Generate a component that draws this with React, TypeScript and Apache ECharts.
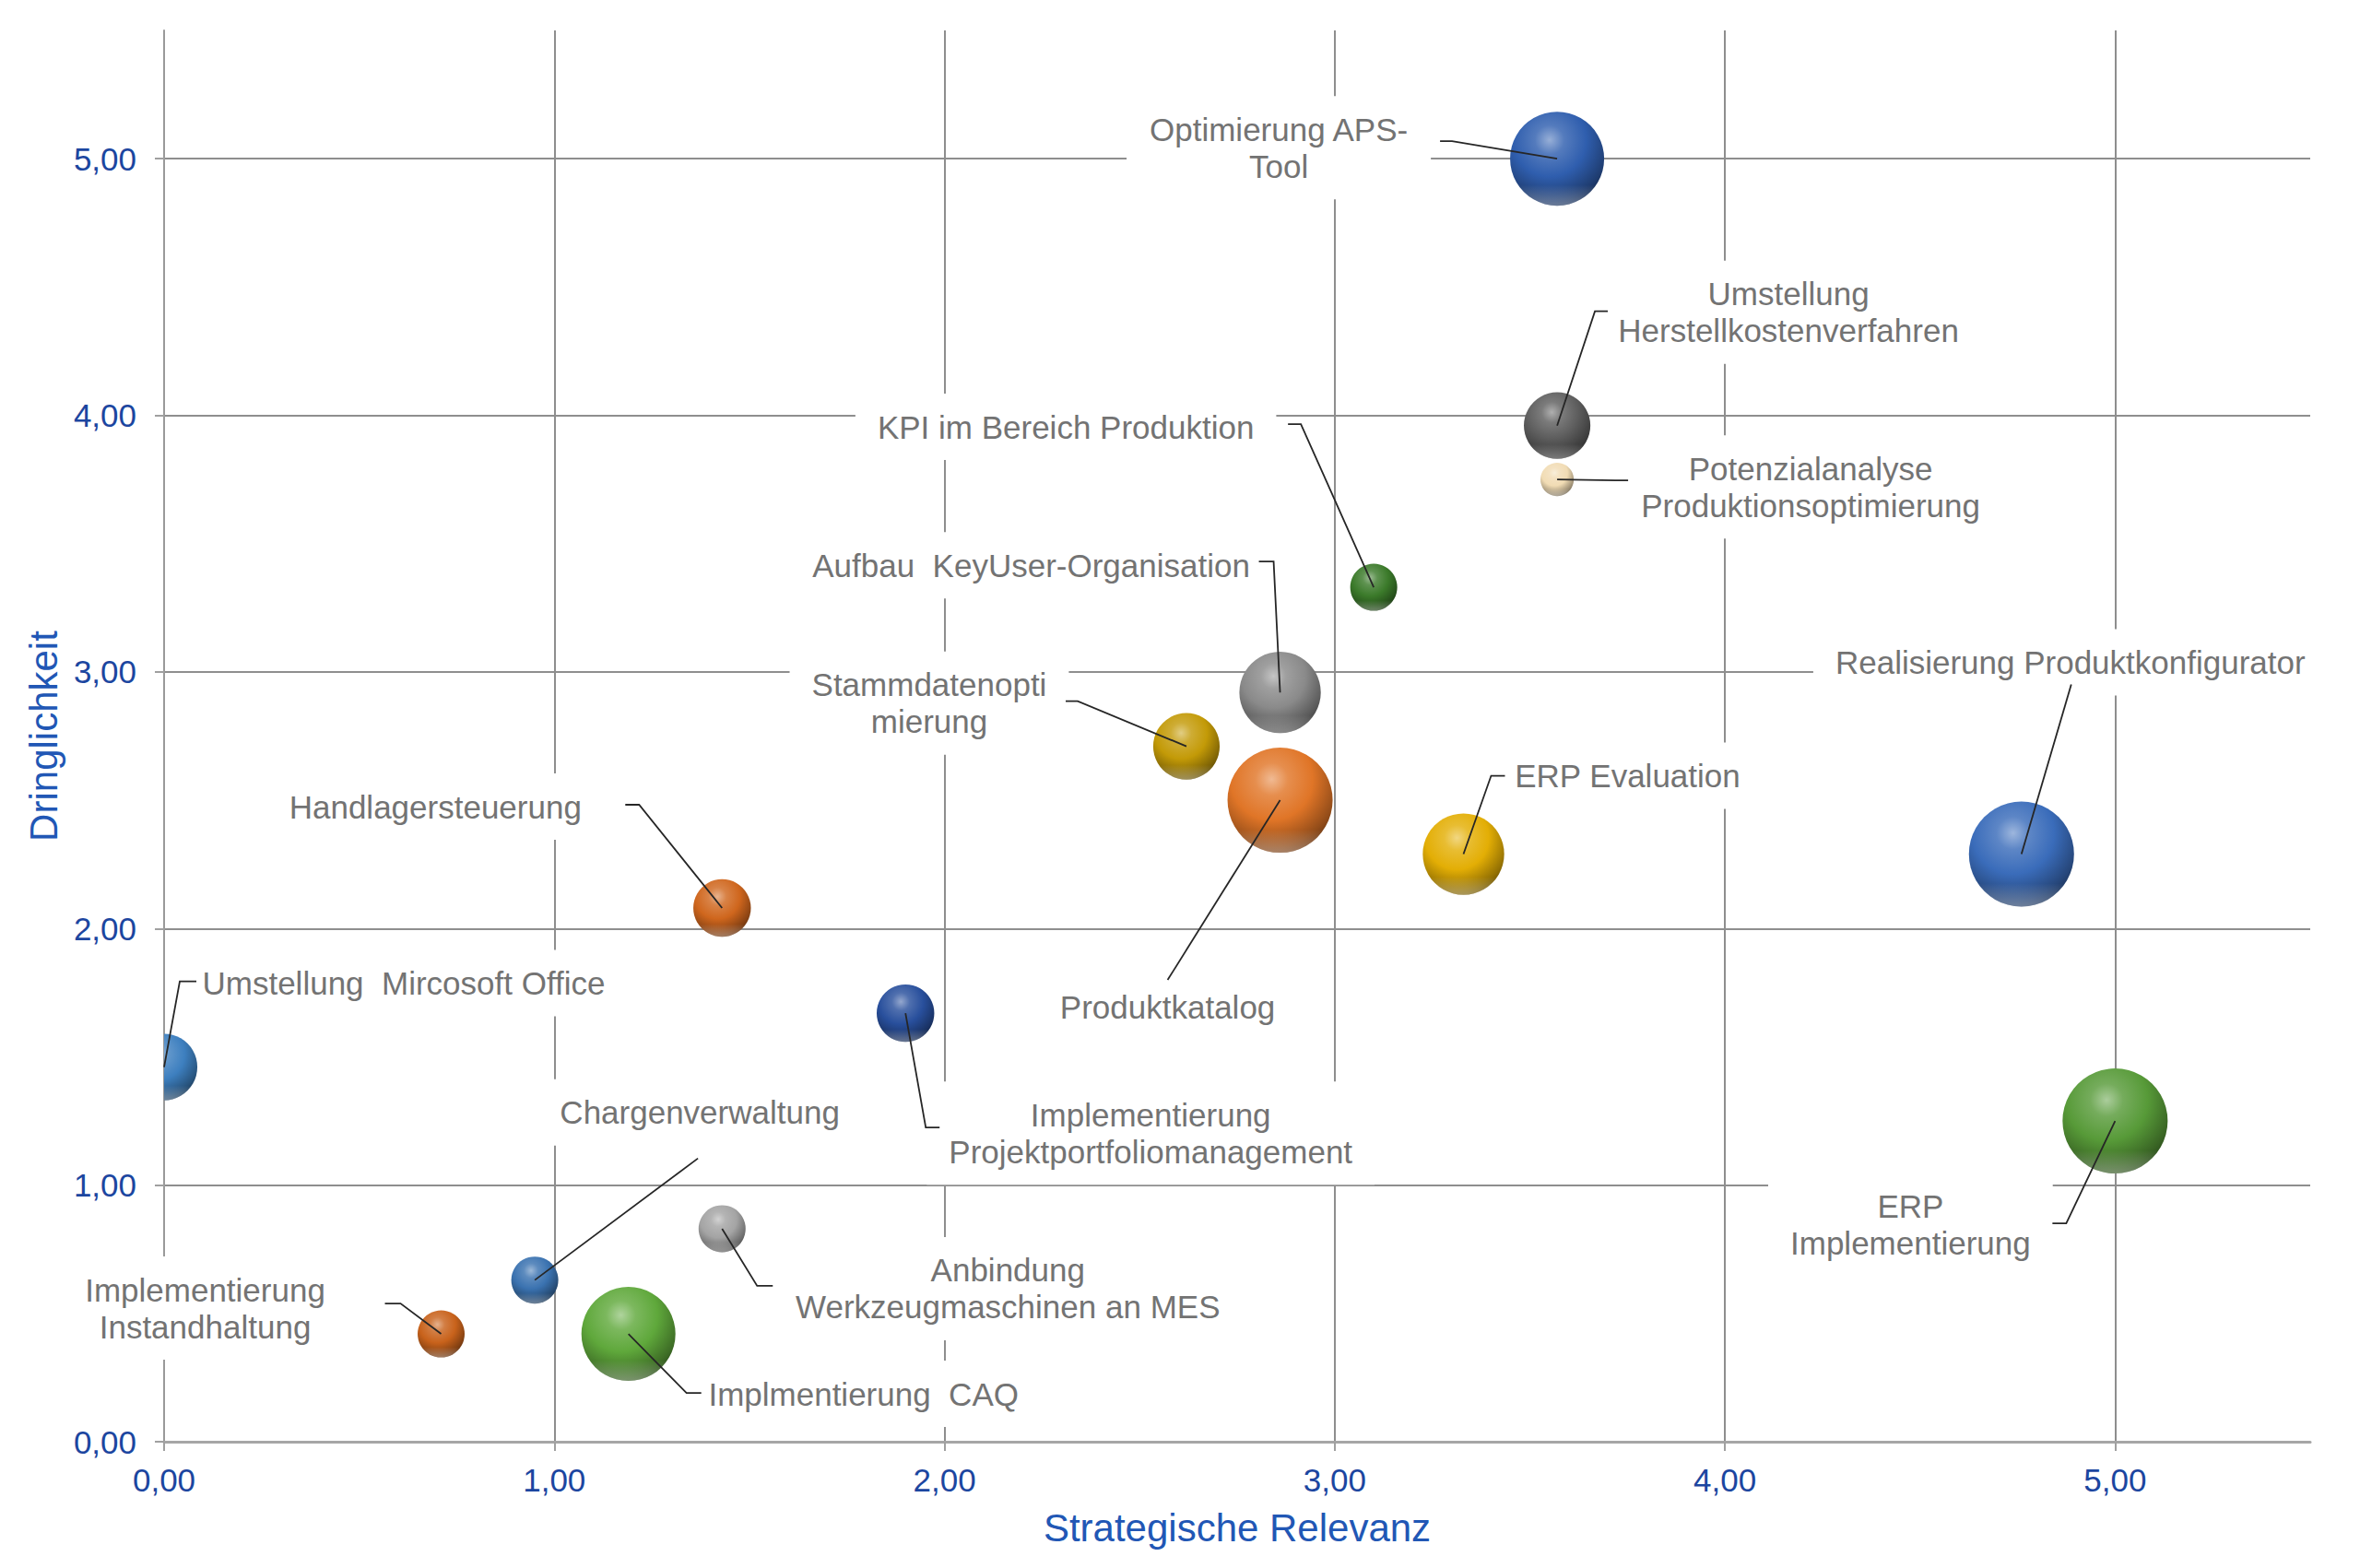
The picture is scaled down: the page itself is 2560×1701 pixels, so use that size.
import React, { useEffect, useRef } from "react";
import * as echarts from "echarts";

// ---------------- data ----------------
const projects: string[] = [
  "Optimierung APS-\nTool",
  "Umstellung\nHerstellkostenverfahren",
  "Potenzialanalyse\nProduktionsoptimierung",
  "KPI im Bereich Produktion",
  "Aufbau  KeyUser-Organisation",
  "Stammdatenopti\nmierung",
  "Produktkatalog",
  "ERP Evaluation",
  "Realisierung Produktkonfigurator",
  "Handlagersteuerung",
  "Umstellung  Mircosoft Office",
  "Implementierung\nProjektportfoliomanagement",
  "ERP\nImplementierung",
  "Anbindung\nWerkzeugmaschinen an MES",
  "Chargenverwaltung",
  "Implementierung\nInstandhaltung",
  "Implmentierung  CAQ",
];
const strategicRelevance: number[] = [3.57, 3.57, 3.57, 3.1, 2.86, 2.62, 2.86, 3.33, 4.76, 1.43, 0.0, 1.9, 5.0, 1.43, 0.95, 0.71, 1.19];
const urgency: number[] = [5.0, 3.96, 3.75, 3.33, 2.92, 2.71, 2.5, 2.29, 2.29, 2.08, 1.46, 1.67, 1.25, 0.83, 0.63, 0.42, 0.42];
const bubbleSize: number[] = [4, 2, 0.5, 1, 3, 2, 5, 3, 5, 1.5, 2, 1.5, 5, 1, 1, 1, 4];
const tickValues: number[] = [0, 1, 2, 3, 4, 5];

// ---------------- styles / layout ----------------
const bubbleColors: string[] = [
  "#2f5eae", "#5e5e5e", "#f1dcb4", "#3b7a2a", "#8a8a8a", "#c39a07", "#e07527", "#e3ae05",
  "#3a6cba", "#cf661d", "#3d7fbf", "#284f9c", "#579a38", "#a4a4a4", "#3a72b0", "#c8621b", "#5fa83b",
];
// label centre (tx,ty), elbow (ex,ey) and anchor x (ax), in px relative to the bubble centre
const labelLayout = [
  { tx: -302, ty: -12, ex: -114, ey: -19, ax: -127 },
  { tx: 251, ty: -123, ex: 41, ey: -124, ax: 55 },
  { tx: 275, ty: 8, ex: 63, ey: 1, ax: 77 },
  { tx: -334, ty: -174, ex: -79, ey: -177, ax: -93 },
  { tx: -270, ty: -138, ex: -7, ey: -142, ax: -23 },
  { tx: -279, ty: -47, ex: -118, ey: -49, ax: -131 },
  { tx: -122, ty: 224, ex: -122, ey: 195, ax: -122 },
  { tx: 178, ty: -85, ex: 30, ey: -85, ax: 45 },
  { tx: 53, ty: -208, ex: 54, ey: -184, ax: 54 },
  { tx: -311, ty: -110, ex: -90, ey: -112, ax: -105 },
  { tx: 260, ty: -91, ex: 17, ey: -93, ax: 35 },
  { tx: 266, ty: 130, ex: 22, ey: 124, ax: 37 },
  { tx: -222, ty: 112, ex: -53, ey: 111, ax: -68 },
  { tx: 310, ty: 65, ex: 38, ey: 62, ax: 55 },
  { tx: 179, ty: -182, ex: 177, ey: -132, ax: 177 },
  { tx: -256, ty: -28, ex: -44, ey: -33, ax: -61 },
  { tx: 255, ty: 65, ex: 63, ey: 64, ax: 79 },
];
const BUBBLE_SCALE = 51; // diameter in px for a size value of 1 (area-proportional)
const FONT = '"Liberation Sans", Arial, Helvetica, sans-serif';
const TICK_BLUE = "#1c46a0";
const TITLE_BLUE = "#2157b5";

function mix(hex: string, target: number[], t: number): string {
  const n = parseInt(hex.slice(1), 16);
  const c = [(n >> 16) & 255, (n >> 8) & 255, n & 255];
  const r = c.map((v, i) => Math.round(v + (target[i] - v) * t));
  return `rgb(${r[0]},${r[1]},${r[2]})`;
}
const WHITE = [255, 255, 255];
const BLACK = [0, 0, 0];

const fmt = (v: number) => v.toFixed(2).replace(".", ",");

export default function App() {
  const ref = useRef<HTMLDivElement>(null);

  useEffect(() => {
    document.body.style.margin = "0";
    document.body.style.background = "#ffffff";
    if (!ref.current) return;
    const chart = echarts.init(ref.current, undefined, { renderer: "svg" });

    const data = projects.map((_, i) => [strategicRelevance[i], urgency[i], bubbleSize[i]]);

    const axisCommon = {
      type: "value" as const,
      min: 0,
      max: 5.5,
      interval: 1,
      nameLocation: "middle" as const,
      nameTextStyle: { fontSize: 42, color: TITLE_BLUE, fontFamily: FONT },
      axisTick: {
        show: true,
        length: 10,
        customValues: tickValues,
        lineStyle: { color: "#a0a0a0", width: 2 },
      },
      axisLabel: {
        customValues: tickValues,
        formatter: (v: number) => fmt(v),
        fontSize: 35,
        color: TICK_BLUE,
        fontFamily: FONT,
      },
      splitLine: {
        show: true,
        lineStyle: { color: "#8e8e8e", width: 2 },
      },
    };

    const option: any = {
      animation: false,
      backgroundColor: "#ffffff",
      grid: { left: 178, right: 54, top: 33, bottom: 137, containLabel: false, outerBoundsMode: "none" },
      xAxis: {
        ...axisCommon,
        name: "Strategische Relevanz",
        nameGap: 72,
        axisLine: { show: true, lineStyle: { color: "#a6a6a6", width: 3 } },
        axisLabel: { ...axisCommon.axisLabel, margin: 24 },
      },
      yAxis: {
        ...axisCommon,
        name: "Dringlichkeit",
        nameGap: 108,
        nameRotate: 90,
        axisLine: { show: true, lineStyle: { color: "#9a9a9a", width: 2 } },
        axisLabel: { ...axisCommon.axisLabel, margin: 30 },
      },
      series: [
        {
          type: "custom",
          name: "bubbles",
          clip: true,
          encode: { x: 0, y: 1 },
          data,
          z: 2,
          renderItem: (params: any, api: any) => {
            const c = api.coord([api.value(0), api.value(1)]);
            const r = (BUBBLE_SCALE * Math.sqrt(api.value(2))) / 2;
            const base = bubbleColors[params.dataIndex];
            return {
              type: "group",
              children: [
                {
                  type: "circle",
                  shape: { cx: c[0], cy: c[1], r },
                  style: {
                    fill: new echarts.graphic.RadialGradient(0.42, 0.3, 0.78, [
                      { offset: 0, color: mix(base, WHITE, 0.5) },
                      { offset: 0.2, color: mix(base, WHITE, 0.18) },
                      { offset: 0.5, color: base },
                      { offset: 0.82, color: mix(base, BLACK, 0.35) },
                      { offset: 1, color: mix(base, BLACK, 0.6) },
                    ]),
                  },
                },
                {
                  type: "circle",
                  shape: { cx: c[0], cy: c[1], r },
                  style: {
                    fill: new echarts.graphic.LinearGradient(0, 0, 0, 1, [
                      { offset: 0, color: "rgba(255,255,255,0)" },
                      { offset: 0.78, color: "rgba(255,255,255,0)" },
                      { offset: 1, color: "rgba(255,255,255,0.35)" },
                    ]),
                  },
                },
              ],
            };
          },
        },
        {
          type: "custom",
          name: "labels",
          clip: false,
          encode: { x: 0, y: 1 },
          data,
          z: 3,
          renderItem: (params: any, api: any) => {
            const i = params.dataIndex;
            const c = api.coord([api.value(0), api.value(1)]);
            const L = labelLayout[i];
            return {
              type: "group",
              children: [
                {
                  type: "text",
                  x: c[0] + L.tx,
                  y: c[1] + L.ty,
                  style: {
                    text: projects[i],
                    align: "center",
                    verticalAlign: "middle",
                    fill: "#737373",
                    fontSize: 35,
                    fontFamily: FONT,
                    lineHeight: 40,
                    backgroundColor: "#ffffff",
                    padding: [16, 24],
                  },
                },
                {
                  type: "polyline",
                  shape: {
                    points: [
                      [c[0], c[1]],
                      [c[0] + L.ex, c[1] + L.ey],
                      [c[0] + L.ax, c[1] + L.ey],
                    ],
                  },
                  style: { stroke: "#262626", lineWidth: 1.8, fill: null },
                },
              ],
            };
          },
        },
      ],
    };

    chart.setOption(option);
    return () => chart.dispose();
  }, []);

  return <div ref={ref} style={{ width: 2560, height: 1701, background: "#ffffff" }} />;
}
